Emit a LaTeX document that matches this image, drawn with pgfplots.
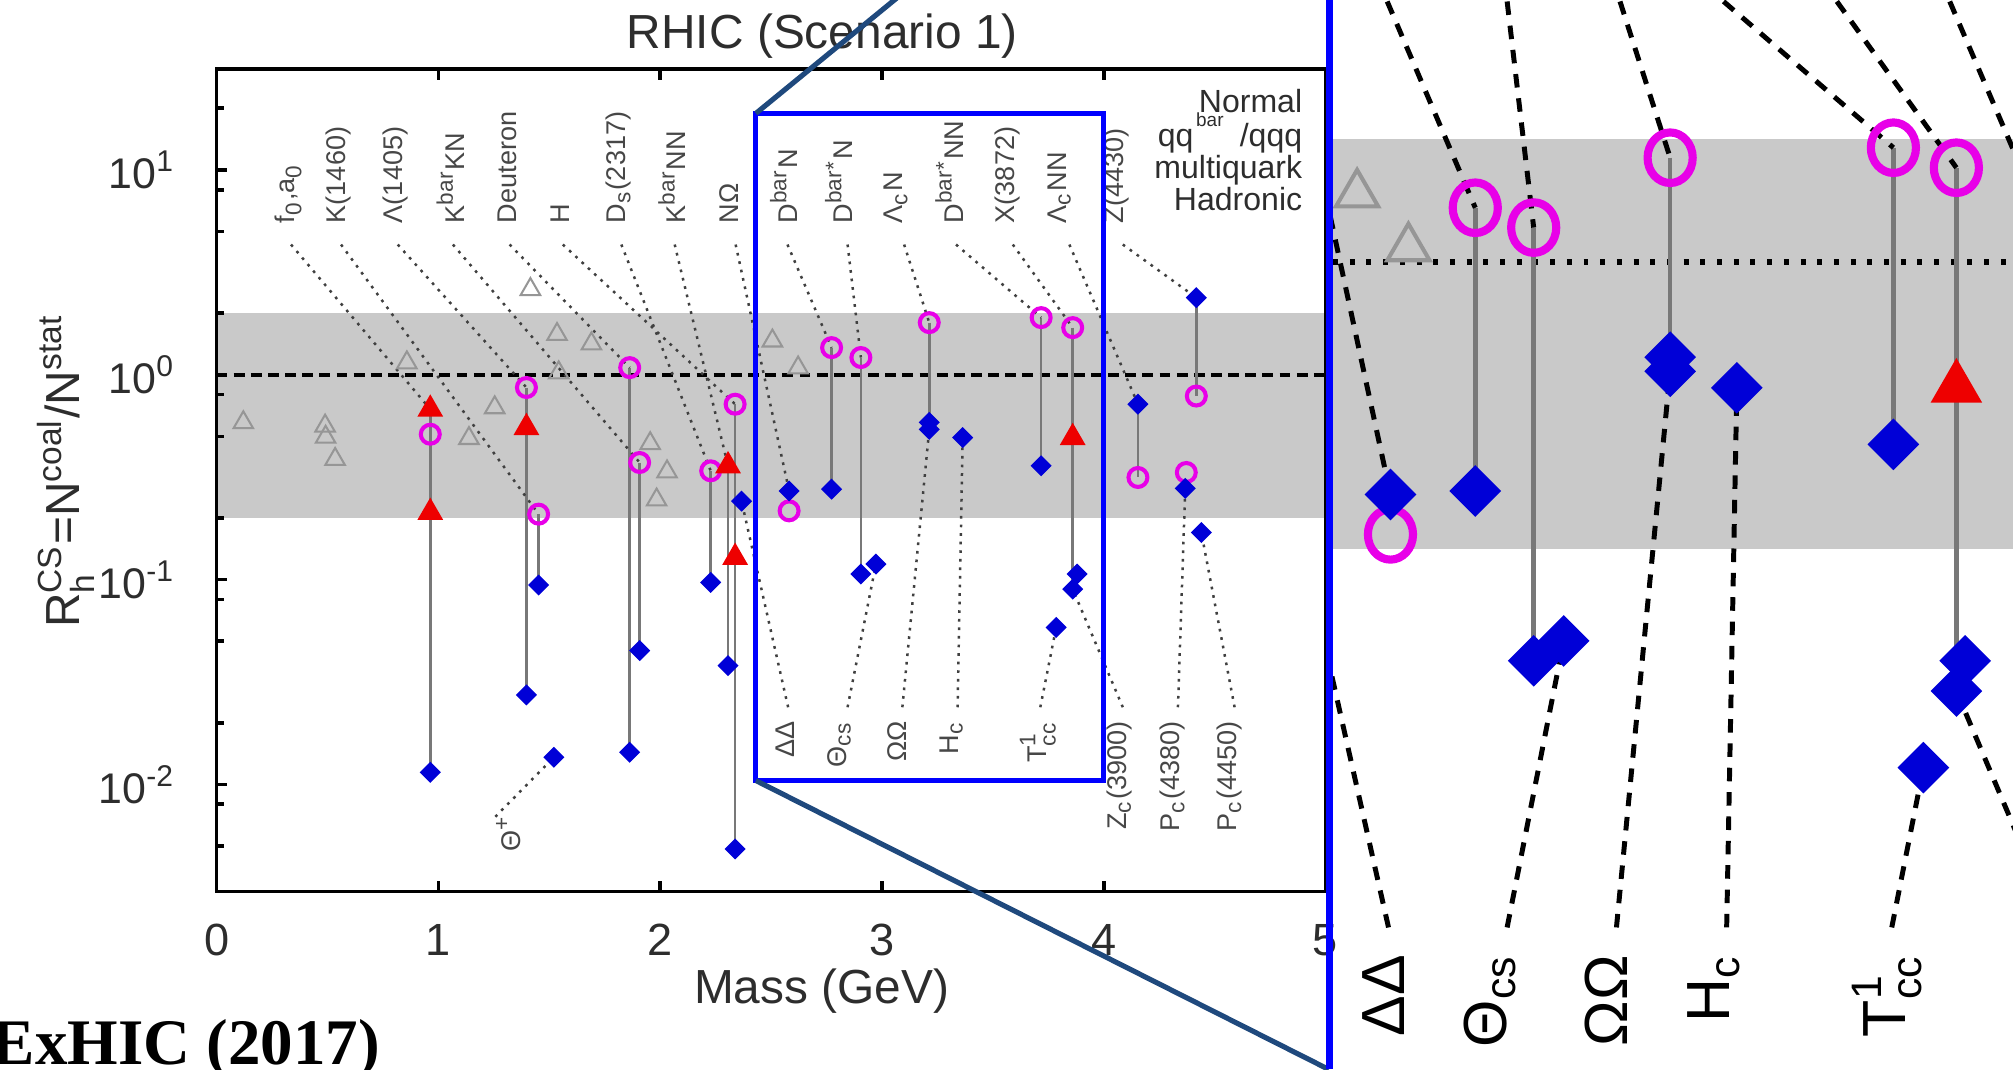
\documentclass[border=0pt]{standalone}
\usepackage{amsmath}
\usepackage{pgfplots}
\pgfplotsset{compat=1.18}
\usepackage{fontspec}
\setmainfont{Liberation Sans}
\newfontfamily\titleserif{Liberation Serif}

\definecolor{hadblue}{RGB}{0,0,215}
\definecolor{mqmag}{RGB}{232,0,232}
\definecolor{qqred}{RGB}{238,0,0}
\definecolor{bandgray}{RGB}{201,201,201}
\definecolor{stemgray}{RGB}{120,120,120}
\definecolor{normgray}{RGB}{150,150,150}
\definecolor{zoomnavy}{RGB}{31,73,125}
\definecolor{zoomblue}{RGB}{0,0,255}
\definecolor{inkgray}{RGB}{45,45,45}

\pgfplotsset{
  hadL/.style={only marks, mark=square*, mark size=1.5pt,
    mark options={rotate=45, fill=hadblue, draw=hadblue, line width=0.3pt}},
  hadR/.style={only marks, mark=square*, mark size=3.8pt,
    mark options={rotate=45, fill=hadblue, draw=hadblue, line width=0.5pt}},
  mqL/.style={only marks, mark=o, mark size=2.1pt,
    mark options={draw=mqmag, line width=0.9pt}},
  mqR/.style={only marks, mark=o, mark size=5pt,
    mark options={draw=mqmag, line width=1.8pt, yscale=1.12}},
  qqL/.style={only marks, mark=triangle*, mark size=2.9pt,
    mark options={fill=qqred, draw=qqred}},
  qqR/.style={only marks, mark=triangle*, mark size=6.2pt,
    mark options={fill=qqred, draw=qqred}},
  norL/.style={only marks, mark=triangle, mark size=2.5pt,
    mark options={draw=normgray, line width=0.45pt}},
  norR/.style={only marks, mark=triangle, mark size=5.4pt,
    mark options={draw=normgray, line width=0.9pt}},
  stemL/.style={stemgray, line width=0.6pt, no marks},
  stemR/.style={stemgray, line width=1pt, no marks},
  leadL/.style={black!75, line width=0.55pt, dash pattern=on 0.6pt off 1.3pt, no marks},
  leadR/.style={black, line width=1.1pt, dash pattern=on 3pt off 2.4pt, no marks},
}
\tikzset{
  unitL/.style={black, line width=0.9pt, dash pattern=on 2.4pt off 1.4pt},
  unitR/.style={black, line width=1.3pt, dash pattern=on 1.1pt off 2.6pt},
  lblL/.style={rotate=90, inner sep=0pt, text=black!72, font=\fontsize{6}{7}\selectfont},
  lblR/.style={rotate=90, inner sep=0pt, text=black, font=\fontsize{13.5}{15}\selectfont},
}

% a two-point segment in axis coordinates
\newcommand{\seg}[5]{\addplot[#1] coordinates {(#2,#3) (#4,#5)};}

% band, ranges, leaders and markers; #1 = L (overview) or R (magnified)
\newcommand{\scene}[1]{%
  \fill[bandgray] (axis cs:0,0.2) rectangle (axis cs:5,2.0);
  \draw[unit#1] (axis cs:0,1) -- (axis cs:5,1);
  % coalescence-to-statistical ranges
  \seg{stem#1}{0.9635}{0.6785}{0.9635}{0.01146}
  \seg{stem#1}{1.397}{0.8659}{1.397}{0.02733}
  \seg{stem#1}{1.452}{0.2086}{1.452}{0.0940}
  \seg{stem#1}{1.8626}{1.083}{1.8626}{0.01435}
  \seg{stem#1}{1.9075}{0.3728}{1.9075}{0.0450}
  \seg{stem#1}{2.2278}{0.3396}{2.2278}{0.0968}
  \seg{stem#1}{2.306}{0.3591}{2.306}{0.0380}
  \seg{stem#1}{2.338}{0.7177}{2.338}{0.00484}
  \seg{stem#1}{2.773}{1.356}{2.773}{0.2763}
  \seg{stem#1}{2.905}{1.213}{2.905}{0.1064}
  \seg{stem#1}{3.2133}{1.796}{3.2133}{0.5411}
  \seg{stem#1}{3.7177}{1.900}{3.7177}{0.3591}
  \seg{stem#1}{3.86}{1.698}{3.86}{0.0898}
  \seg{stem#1}{4.1542}{0.7177}{4.1542}{0.3150}
  \seg{stem#1}{4.4174}{2.378}{4.4174}{0.787}
  % leaders from the upper labels
  \seg{lead#1}{0.3357}{4.32}{0.9635}{0.6785}
  \seg{lead#1}{0.5612}{4.32}{1.452}{0.2086}
  \seg{lead#1}{0.8168}{4.32}{1.397}{0.8659}
  \seg{lead#1}{1.0655}{4.32}{1.9075}{0.3728}
  \seg{lead#1}{1.3212}{4.32}{1.8626}{1.083}
  \seg{lead#1}{1.5612}{4.32}{2.338}{0.7177}
  \seg{lead#1}{1.825}{4.32}{2.2278}{0.3396}
  \seg{lead#1}{2.0655}{4.32}{2.306}{0.3591}
  \seg{lead#1}{2.3403}{4.32}{2.5814}{0.2708}
  \seg{lead#1}{2.574}{4.32}{2.773}{1.356}
  \seg{lead#1}{2.845}{4.32}{2.905}{1.213}
  \seg{lead#1}{3.100}{4.32}{3.2133}{1.796}
  \seg{lead#1}{3.334}{4.32}{3.7177}{1.900}
  \seg{lead#1}{3.590}{4.32}{3.86}{1.698}
  \seg{lead#1}{3.845}{4.32}{4.1542}{0.7177}
  \seg{lead#1}{4.086}{4.32}{4.4174}{2.378}
  % leaders from the lower labels
  \seg{lead#1}{1.2568}{0.00695}{1.5206}{0.01356}
  \seg{lead#1}{2.577}{0.0238}{2.367}{0.2413}
  \seg{lead#1}{2.845}{0.0238}{2.9728}{0.1190}
  \seg{lead#1}{3.092}{0.0238}{3.2133}{0.5411}
  \seg{lead#1}{3.341}{0.0238}{3.364}{0.4933}
  \seg{lead#1}{3.714}{0.0238}{3.7855}{0.0584}
  \seg{lead#1}{4.086}{0.0238}{3.86}{0.0898}
  \seg{lead#1}{4.3345}{0.0238}{4.3675}{0.2787}
  \seg{lead#1}{4.590}{0.0238}{4.44}{0.1697}
  % normal hadrons
  \addplot[nor#1] coordinates {(0.1206,0.584) (0.4893,0.5625) (0.4916,0.4962)
    (0.5345,0.3867) (0.858,1.145) (1.138,0.489) (1.254,0.691) (1.415,2.609)
    (1.535,1.575) (1.5426,1.023) (1.690,1.416) (1.955,0.4615) (1.984,0.245)
    (2.031,0.336) (2.506,1.463) (2.622,1.081)};
  % multiquark
  \addplot[mq#1] coordinates {(0.9635,0.5122) (1.397,0.8659) (1.452,0.2086)
    (1.8626,1.083) (1.9075,0.3728) (2.2278,0.3396) (2.338,0.7177)
    (2.5814,0.2165) (2.773,1.356) (2.905,1.213) (3.2133,1.796) (3.7177,1.900)
    (3.86,1.698) (4.1542,0.3150) (4.4174,0.787) (4.3722,0.3332)};
  % hadronic molecule
  \addplot[had#1] coordinates {(0.9635,0.01146) (1.397,0.02733) (1.452,0.0940)
    (1.5206,0.01356) (1.8626,0.01435) (1.9075,0.0450) (2.2278,0.0968)
    (2.306,0.0380) (2.338,0.00484) (2.367,0.2413) (2.5814,0.2708)
    (2.773,0.2763) (2.905,0.1064) (2.9728,0.1190) (3.2133,0.5856)
    (3.2133,0.5411) (3.364,0.4933) (3.7177,0.3591) (3.86,0.0898)
    (3.88,0.1064) (3.7855,0.0584) (4.1542,0.7177) (4.4174,2.378)
    (4.3675,0.2787) (4.44,0.1697)};
  % qqbar / qqq
  \addplot[qq#1] coordinates {(0.9635,0.6785) (0.9635,0.2126) (1.397,0.5521)
    (2.306,0.3591) (2.338,0.1283) (3.86,0.4933)};
}

% lower labels that fall inside the zoom frame
\newcommand{\framelabels}[1]{%
  \node[lbl#1, anchor=east] at (axis cs:2.565,0.0205) {ΔΔ};
  \node[lbl#1, anchor=east] at (axis cs:2.806,0.0205) {Θ\textsubscript{cs}};
  \node[lbl#1, anchor=east] at (axis cs:3.068,0.0205) {ΩΩ};
  \node[lbl#1, anchor=east] at (axis cs:3.312,0.0205) {H\textsubscript{c}};
  \node[lbl#1, anchor=east] at (axis cs:3.703,0.0205) {T$^{\text{1}}_{\text{cc}}$};
}

% remaining labels of the overview
\newcommand{\overviewlabels}{%
  \node[lblL, anchor=west] at (axis cs:0.3241,5.44) {f\textsubscript{0},a\textsubscript{0}};
  \node[lblL, anchor=west] at (axis cs:0.5496,5.44) {K(1460)};
  \node[lblL, anchor=west] at (axis cs:0.8052,5.44) {Λ(1405)};
  \node[lblL, anchor=west] at (axis cs:1.054,5.44) {K\textsuperscript{bar}KN};
  \node[lblL, anchor=west] at (axis cs:1.3096,5.44) {Deuteron};
  \node[lblL, anchor=west] at (axis cs:1.5496,5.44) {H};
  \node[lblL, anchor=west] at (axis cs:1.8133,5.44) {D\textsubscript{s}(2317)};
  \node[lblL, anchor=west] at (axis cs:2.054,5.44) {K\textsuperscript{bar}NN};
  \node[lblL, anchor=west] at (axis cs:2.309,5.44) {NΩ};
  \node[lblL, anchor=west] at (axis cs:2.558,5.44) {D\textsuperscript{bar}N};
  \node[lblL, anchor=west] at (axis cs:2.806,5.44) {D\textsuperscript{bar*}N};
  \node[lblL, anchor=west] at (axis cs:3.063,5.44) {Λ\textsubscript{c}N};
  \node[lblL, anchor=west] at (axis cs:3.303,5.44) {D\textsuperscript{bar*}NN};
  \node[lblL, anchor=west] at (axis cs:3.567,5.44) {X(3872)};
  \node[lblL, anchor=west] at (axis cs:3.799,5.44) {Λ\textsubscript{c}NN};
  \node[lblL, anchor=west] at (axis cs:4.056,5.44) {Z(4430)};
  \node[lblL] at (axis cs:1.3154,0.00576) {Θ\textsuperscript{+}};
  \node[lblL, anchor=east] at (axis cs:4.070,0.0205) {Z\textsubscript{c}(3900)};
  \node[lblL, anchor=east] at (axis cs:4.312,0.0205) {P\textsubscript{c}(4380)};
  \node[lblL, anchor=east] at (axis cs:4.568,0.0205) {P\textsubscript{c}(4450)};
}

\begin{document}
\begin{tikzpicture}
\useasboundingbox (0,0) rectangle (15.68,8.33);
\clip (0,0) rectangle (15.68,8.33);

% overview panel
\begin{axis}[
  at={(1.687cm,1.386cm)}, anchor=south west,
  width=8.638cm, height=6.405cm, scale only axis,
  xmin=0, xmax=5, ymode=log, ymin=0.003, ymax=31,
  axis on top, axis line style={line width=0.85pt, black},
  every tick/.style={black, line width=0.8pt},
  major tick length=0.085cm, minor tick length=0.06cm,
  tick align=inside,
  xtick={0,1,2,3,4,5}, xticklabels={0,1,2,3,4,5}, minor x tick num=0,
  xtick pos=both, ytick pos=left,
  ytick={0.01,0.1,1,10},
  yticklabels={10$^{\text{-2}}$,10$^{\text{-1}}$,10$^{\text{0}}$,10$^{\text{1}}$},
  minor ytick={0.005,0.008,0.02,0.05,0.08,0.2,0.5,0.8,2,5,8,20},
  xticklabel style={font=\fontsize{10}{12}\selectfont, text=inkgray, yshift=-3.7pt},
  yticklabel style={font=\fontsize{9.5}{11}\selectfont, text=inkgray, xshift=-5.6pt},
  clip=true,
]
\scene{L}
\framelabels{L}
\overviewlabels
\end{axis}

% magnified panel
\begin{scope}
\clip (10.35,0) rectangle (15.68,8.33);
\begin{axis}[
  at={(10.35cm,0cm)}, anchor=south west,
  width=5.33cm, height=8.33cm, scale only axis,
  xmin=2.442, xmax=3.988, ymode=log, ymin=0.01072, ymax=4.355,
  hide axis, clip=true,
]
\scene{R}
\framelabels{R}
\end{axis}
\end{scope}

% legend text of the overview panel
\begin{scope}[every node/.style={anchor=base east, inner sep=0pt, text=inkgray,
    font=\fontsize{7.1}{8}\selectfont}]
  \node at (10.15,7.45) {Normal};
  \node at (10.15,7.19) {qq\hspace{0.6pt}\raisebox{4.3pt}{\fontsize{4.2}{4.2}\selectfont bar}\hspace{3.6pt}/qqq};
  \node at (10.15,6.94) {multiquark};
  \node at (10.15,6.69) {Hadronic};
\end{scope}

% titles and axis descriptions
\node[anchor=base, text=inkgray, font=\fontsize{10.6}{12}\selectfont] at (6.405,7.95) {RHIC (Scenario 1)};
\node[anchor=base, text=inkgray, font=\fontsize{10.6}{12}\selectfont] at (6.40,0.51) {Mass (GeV)};
\node[anchor=base, rotate=90, text=inkgray, font=\fontsize{10.6}{12}\selectfont] at (0.62,4.66)
  {R$^{\text{CS}}_{\text{h}}$=N$^{\text{coal}}$/N$^{\text{stat}}$};
\node[anchor=base west, inner sep=0pt, font=\titleserif\bfseries\fontsize{14.4}{16}\selectfont] at (-0.07,0.04) {ExHIC (2017)};

% zoom frame and connectors
\draw[zoomblue, line width=0.04cm] (5.888,7.447) rectangle (8.593,2.25);
\draw[zoomnavy, line width=0.04cm] (5.888,7.447) -- (10.35,11.1);
\draw[zoomnavy, line width=0.04cm] (5.888,2.25) -- (10.35,0);
\draw[zoomblue, line width=0.05cm] (10.355,0) -- (10.355,8.33);
\end{tikzpicture}
\end{document}
